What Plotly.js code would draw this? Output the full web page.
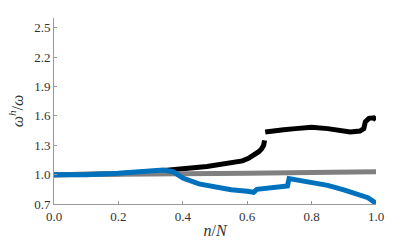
<!DOCTYPE html>
<html><head><meta charset="utf-8">
<script src="https://cdn.plot.ly/plotly-3.0.1.min.js"></script>
<style>html,body{margin:0;padding:0;background:#fff}</style>
</head><body><div id="chart" style="width:415px;height:243px"></div>
<script>
// n/N positions and omega^h/omega values
var xBlack = [0, 0.1, 0.2, 0.3, 0.35, 0.4, 0.475, 0.5, 0.563, 0.585, 0.604, 0.62, 0.636, 0.645, 0.651, 0.654, null, 0.656, 0.685, 0.713, 0.75, 0.8, 0.85, 0.9, 0.92, 0.95, 0.962, 0.967, 0.978, 0.993, 1.0];
var yBlack = [1.0, 1.0, 1.01, 1.03, 1.05, 1.06, 1.083, 1.095, 1.12, 1.14, 1.166, 1.195, 1.234, 1.265, 1.30, 1.35, null, 1.435, 1.45, 1.458, 1.47, 1.485, 1.47, 1.44, 1.435, 1.445, 1.47, 1.54, 1.575, 1.58, 1.557];
var xGray = [0, 0.3, 0.4, 0.6, 0.8, 1.0];
var yGray = [1.0, 1.0, 1.01, 1.015, 1.02, 1.03];
var xBlue = [0, 0.1, 0.2, 0.3, 0.34, 0.37, 0.4, 0.45, 0.5, 0.55, 0.6, 0.62, 0.63, 0.67, 0.72, 0.725, 0.73, 0.8, 0.85, 0.9, 0.95, 0.975, 0.99, 1.0];
var yBlue = [1.0, 1.0, 1.013, 1.03, 1.047, 1.03, 0.965, 0.905, 0.87, 0.845, 0.83, 0.82, 0.85, 0.86, 0.87, 0.884, 0.96, 0.92, 0.89, 0.845, 0.8, 0.765, 0.73, 0.705];
var xTicks = [0, 0.2, 0.4, 0.6, 0.8, 1.0];
var xTickText = ['0.0', '0.2', '0.4', '0.6', '0.8', '1.0'];
var yTicks = [0.7, 1.0, 1.3, 1.6, 1.9, 2.2, 2.5];
var yTickText = ['0.7', '1.0', '1.3', '1.6', '1.9', '2.2', '2.5'];

var W = 5;
var traces = [
  {x: xBlack, y: yBlack, mode: 'lines', line: {color: '#000000', width: W}, connectgaps: false, hoverinfo: 'skip'},
  {x: xGray, y: yGray, mode: 'lines', line: {color: '#808080', width: W}, hoverinfo: 'skip'},
  {x: xBlue, y: yBlue, mode: 'lines', line: {color: '#0072BD', width: W}, hoverinfo: 'skip'}
];
var FAM = 'Liberation Serif';
var tickFont = {family: FAM, size: 13, color: '#333'};
var titleFont = {family: FAM, size: 16, color: '#333'};
var layout = {
  width: 415, height: 243,
  margin: {l: 54, r: 39, t: 18, b: 39},
  paper_bgcolor: '#fff', plot_bgcolor: '#fff',
  showlegend: false,
  font: tickFont,
  xaxis: {
    range: [0, 1], tickvals: xTicks, ticktext: xTickText, tickfont: tickFont,
    showgrid: false, zeroline: false, showline: true, linecolor: '#999', linewidth: 1,
    ticks: 'inside', ticklen: 3, tickcolor: '#999',
    title: {text: '<i>n</i>/<i>N</i>', font: titleFont, standoff: 2}
  },
  yaxis: {
    range: [0.7, 2.6], tickvals: yTicks, ticktext: yTickText, tickfont: tickFont,
    showgrid: false, zeroline: false, showline: true, linecolor: '#999', linewidth: 1,
    ticks: 'inside', ticklen: 3, tickcolor: '#999',
    title: {text: '<i>ω<sup>h</sup></i>/<i>ω</i>', font: titleFont, standoff: 6}
  }
};
Plotly.newPlot('chart', traces, layout, {staticPlot: true, displayModeBar: false});
</script></body></html>
